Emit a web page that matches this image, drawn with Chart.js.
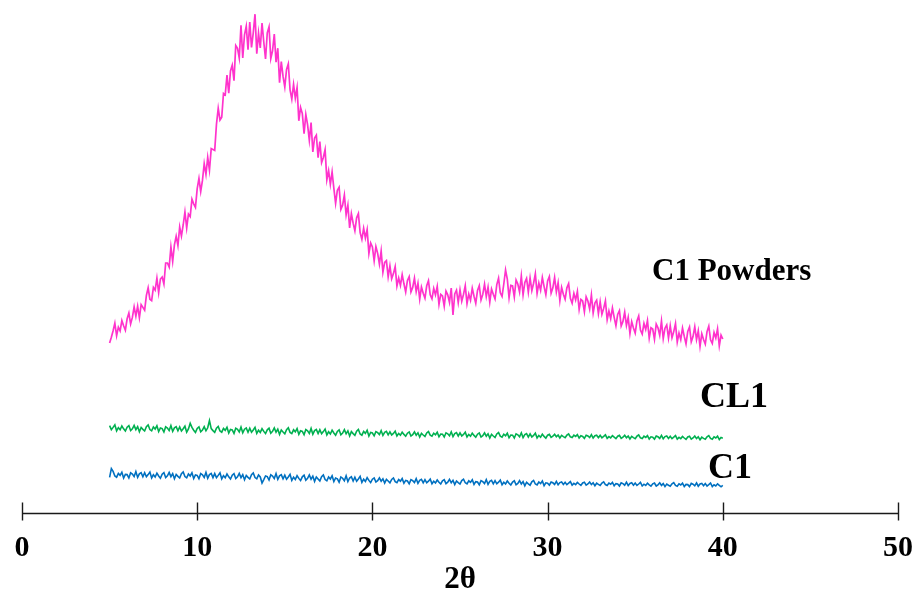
<!DOCTYPE html>
<html>
<head>
<meta charset="utf-8">
<script src="https://cdn.jsdelivr.net/npm/chart.js@4.4.1/dist/chart.umd.min.js"></script>
<style>
  html, body { margin: 0; padding: 0; background: #fff; }
  #wrap { width: 921px; height: 589px; }
</style>
</head>
<body>
<div id="wrap"><canvas id="xrd"></canvas></div>
<script>
// scan grid, 2θ in degrees
const scanStart = 5, scanStep = 0.1;
const xTicks = [0, 10, 20, 30, 40, 50];

// intensity (counts, stacked) per scan step
const c1Powders = [
  850, 879, 911, 949, 886, 929, 910, 962, 936, 914,
  971, 1000, 945, 978, 1031, 984, 1034, 976, 1042, 1028,
  1014, 1088, 1126, 1069, 1062, 1128, 1114, 1174, 1102, 1170,
  1180, 1145, 1250, 1250, 1230, 1330, 1258, 1341, 1384, 1337,
  1430, 1385, 1440, 1505, 1425, 1495, 1482, 1569, 1546, 1528,
  1622, 1673, 1607, 1663, 1747, 1693, 1778, 1714, 1822, 1818,
  1813, 1944, 2023, 1965, 1979, 2098, 2091, 2190, 2099, 2210,
  2239, 2162, 2338, 2324, 2275, 2439, 2275, 2391, 2434, 2316,
  2455, 2328, 2401, 2494, 2297, 2400, 2325, 2450, 2355, 2270,
  2401, 2431, 2272, 2311, 2395, 2254, 2324, 2151, 2257, 2183,
  2130, 2218, 2246, 2116, 2069, 2143, 2074, 2127, 1961, 2028,
  1997, 1897, 1993, 1942, 1863, 1952, 1805, 1875, 1889, 1777,
  1857, 1752, 1778, 1817, 1666, 1712, 1643, 1705, 1623, 1548,
  1614, 1629, 1518, 1539, 1590, 1491, 1539, 1425, 1497, 1449,
  1411, 1476, 1497, 1402, 1368, 1423, 1375, 1417, 1298, 1350,
  1330, 1261, 1332, 1298, 1244, 1310, 1204, 1253, 1262, 1181,
  1236, 1171, 1197, 1232, 1135, 1175, 1138, 1192, 1146, 1105,
  1163, 1182, 1105, 1128, 1174, 1107, 1149, 1069, 1130, 1099,
  1074, 1136, 1161, 1091, 1071, 1123, 1091, 1133, 1043, 1093,
  1085, 1034, 1110, 1091, 1053, 1125, 990, 1095, 1114, 1052,
  1116, 1059, 1093, 1136, 1047, 1095, 1064, 1124, 1084, 1049,
  1113, 1137, 1065, 1093, 1144, 1082, 1129, 1054, 1120, 1094,
  1070, 1142, 1174, 1101, 1083, 1145, 1215, 1169, 1076, 1138,
  1135, 1080, 1165, 1145, 1105, 1185, 1091, 1152, 1173, 1104,
  1175, 1112, 1149, 1196, 1098, 1150, 1114, 1178, 1132, 1091,
  1160, 1182, 1099, 1126, 1178, 1105, 1151, 1062, 1128, 1094,
  1069, 1126, 1147, 1073, 1049, 1098, 1066, 1108, 1018, 1068,
  1060, 1007, 1081, 1060, 1020, 1090, 1000, 1050, 1064, 997,
  1056, 994, 1023, 1061, 967, 1010, 972, 1025, 978, 936,
  993, 1012, 935, 958, 1004, 937, 978, 897, 957, 925,
  899, 960, 985, 915, 895, 948, 918, 962, 874, 926,
  920, 869, 945, 926, 888, 960, 872, 924, 940, 875,
  936, 876, 907, 947, 855, 900, 867, 925, 883, 846,
  908, 930, 856, 882, 931, 867, 911, 833, 896, 867,
  844, 907, 934, 866, 848, 903, 875, 921, 835, 889,
  870
];

const cl1 = [
  437, 417, 428, 441, 411, 427, 416, 435, 421, 410,
  429, 437, 412, 421, 438, 417, 432, 406, 428, 418,
  410, 431, 440, 417, 411, 430, 420, 436, 407, 425,
  422, 405, 431, 425, 412, 437, 408, 426, 432, 411,
  430, 410, 421, 434, 404, 420, 448, 428, 414, 403,
  423, 431, 406, 415, 432, 411, 426, 462, 422, 412,
  403, 424, 433, 410, 404, 423, 413, 429, 400, 418,
  415, 398, 424, 418, 405, 430, 401, 419, 425, 404,
  424, 404, 415, 428, 398, 414, 403, 422, 408, 397,
  416, 424, 399, 408, 425, 404, 419, 393, 415, 405,
  396, 417, 426, 403, 397, 416, 406, 422, 393, 411,
  408, 391, 417, 411, 398, 423, 394, 412, 418, 397,
  416, 396, 407, 420, 390, 406, 395, 414, 400, 389,
  408, 416, 391, 400, 417, 396, 411, 385, 407, 397,
  388, 409, 418, 395, 389, 408, 398, 414, 385, 403,
  400, 386, 407, 402, 392, 412, 388, 403, 408, 391,
  406, 390, 398, 409, 385, 398, 389, 404, 393, 384,
  399, 405, 385, 392, 406, 389, 401, 380, 398, 390,
  383, 400, 407, 389, 384, 399, 391, 404, 381, 395,
  394, 380, 401, 396, 386, 406, 382, 397, 402, 385,
  401, 385, 393, 404, 380, 393, 384, 399, 388, 379,
  394, 400, 380, 387, 401, 384, 396, 375, 393, 385,
  378, 395, 402, 384, 379, 394, 386, 399, 376, 390,
  389, 375, 396, 391, 381, 401, 377, 392, 397, 380,
  396, 380, 388, 399, 375, 388, 379, 394, 383, 374,
  389, 393, 378, 384, 394, 381, 390, 375, 388, 382,
  377, 389, 395, 381, 377, 389, 383, 392, 375, 386,
  383, 373, 389, 385, 377, 392, 375, 386, 389, 377,
  388, 376, 383, 391, 373, 382, 376, 387, 379, 372,
  384, 388, 373, 379, 389, 376, 385, 370, 383, 377,
  372, 384, 390, 376, 372, 384, 378, 387, 370, 381,
  379, 369, 385, 381, 373, 388, 371, 382, 385, 373,
  384, 372, 379, 387, 369, 378, 372, 383, 375, 368,
  380, 384, 369, 375, 385, 372, 381, 366, 379, 373,
  369, 381, 387, 373, 369, 381, 375, 384, 367, 378,
  374
];

const c1 = [
  178, 222, 208, 185, 179, 198, 188, 204, 175, 193,
  192, 175, 201, 195, 182, 207, 178, 196, 202, 181,
  201, 181, 192, 205, 175, 191, 180, 199, 185, 174,
  194, 202, 177, 186, 203, 182, 197, 171, 193, 183,
  175, 196, 205, 182, 176, 195, 185, 201, 172, 190,
  188, 171, 197, 191, 178, 203, 174, 192, 198, 177,
  197, 177, 188, 201, 171, 187, 176, 195, 181, 170,
  189, 197, 172, 181, 198, 177, 192, 166, 188, 178,
  170, 191, 200, 177, 171, 190, 180, 150, 167, 185,
  182, 165, 191, 185, 172, 197, 168, 186, 192, 171,
  189, 169, 180, 193, 163, 179, 168, 187, 173, 162,
  181, 189, 164, 173, 190, 169, 184, 158, 180, 170,
  160, 181, 190, 167, 161, 180, 170, 186, 157, 175,
  171, 154, 180, 174, 161, 186, 157, 175, 181, 160,
  179, 159, 170, 183, 153, 169, 158, 177, 163, 152,
  169, 175, 155, 162, 176, 159, 171, 150, 168, 160,
  151, 168, 175, 157, 152, 167, 159, 172, 149, 163,
  160, 146, 167, 162, 152, 172, 148, 163, 168, 151,
  167, 151, 159, 170, 146, 159, 150, 165, 154, 145,
  161, 167, 147, 154, 168, 151, 163, 142, 160, 152,
  145, 162, 169, 151, 146, 161, 153, 166, 143, 157,
  155, 141, 162, 157, 147, 167, 143, 158, 163, 146,
  162, 146, 154, 165, 141, 154, 145, 160, 149, 140,
  155, 161, 141, 148, 162, 145, 157, 136, 154, 146,
  139, 156, 163, 145, 140, 155, 147, 160, 137, 151,
  149, 139, 155, 151, 143, 158, 141, 152, 155, 143,
  154, 142, 149, 157, 139, 148, 142, 153, 145, 138,
  150, 154, 139, 145, 155, 142, 151, 136, 149, 143,
  138, 150, 156, 142, 138, 150, 144, 153, 136, 147,
  145, 135, 151, 147, 139, 154, 137, 148, 151, 139,
  150, 138, 145, 153, 135, 144, 138, 149, 141, 134,
  146, 150, 135, 141, 151, 138, 147, 132, 145, 139,
  134, 146, 152, 138, 134, 146, 140, 149, 132, 143,
  142, 132, 148, 144, 136, 151, 134, 145, 148, 136,
  147, 135, 142, 150, 132, 141, 135, 146, 138, 131,
  138
];

const seriesNames = ['C1 Powders', 'CL1', 'C1'];
const seriesColors = ['#ff33cc', '#00b050', '#0070c0'];

const SERIF = '"Liberation Serif", "Times New Roman", Times, serif';

function toPoints(values) {
  return values.map((v, i) => ({ x: +(scanStart + i * scanStep).toFixed(2), y: v }));
}

// axis line with crossing tick marks, plus the pattern names
const axisAndTags = {
  id: 'axisAndTags',
  afterDraw(chart) {
    const { ctx, chartArea, scales: { x, y } } = chart;
    const y0 = Math.round(chartArea.bottom) + 0.5;
    ctx.save();
    ctx.strokeStyle = '#1a1a1a';
    ctx.lineWidth = 1.4;
    ctx.beginPath();
    ctx.moveTo(x.getPixelForValue(xTicks[0]), y0);
    ctx.lineTo(x.getPixelForValue(xTicks[xTicks.length - 1]), y0);
    xTicks.forEach(t => {
      const px = Math.round(x.getPixelForValue(t)) + 0.5;
      ctx.moveTo(px, y0 - 11);
      ctx.lineTo(px, y0 + 7);
    });
    ctx.stroke();

    const tags = [
      { at: [35.96, 1165], size: 31 },
      { at: [38.7, 530], size: 36 },
      { at: [39.16, 175], size: 36 }
    ];
    ctx.fillStyle = '#000';
    ctx.textAlign = 'left';
    ctx.textBaseline = 'alphabetic';
    tags.forEach((t, i) => {
      ctx.font = `bold ${t.size}px ${SERIF}`;
      ctx.fillText(seriesNames[i], x.getPixelForValue(t.at[0]), y.getPixelForValue(t.at[1]));
    });
    ctx.restore();
  }
};

new Chart(document.getElementById('xrd'), {
  type: 'line',
  data: {
    datasets: [
      { label: seriesNames[0], data: toPoints(c1Powders), borderColor: seriesColors[0], borderWidth: 1.7 },
      { label: seriesNames[1], data: toPoints(cl1), borderColor: seriesColors[1], borderWidth: 1.6 },
      { label: seriesNames[2], data: toPoints(c1), borderColor: seriesColors[2], borderWidth: 1.6 }
    ]
  },
  options: {
    responsive: true,
    maintainAspectRatio: false,
    animation: false,
    layout: { padding: { left: 22, right: 23, top: 0, bottom: 0 } },
    elements: {
      line: { tension: 0 },
      point: { radius: 0, hoverRadius: 0 }
    },
    plugins: { legend: { display: false }, tooltip: { enabled: false } },
    scales: {
      x: {
        type: 'linear',
        min: 0,
        max: 50,
        border: { display: false },
        grid: { display: false, drawTicks: false },
        afterBuildTicks: scale => { scale.ticks = xTicks.map(v => ({ value: v })); },
        afterFit: scale => {
          scale.height = 76;
          scale.paddingLeft = 0;
          scale.paddingRight = 0;
        },
        ticks: {
          color: '#000',
          padding: 20,
          maxRotation: 0,
          font: { family: SERIF, size: 30, weight: 'bold', lineHeight: 1 }
        },
        title: {
          display: true,
          text: '2θ',
          color: '#000',
          padding: 0,
          font: { family: SERIF, size: 31, weight: 'bold', lineHeight: 0.6 }
        }
      },
      y: { display: false, min: 0, max: 2565 }
    }
  },
  plugins: [axisAndTags]
});
</script>
</body>
</html>
